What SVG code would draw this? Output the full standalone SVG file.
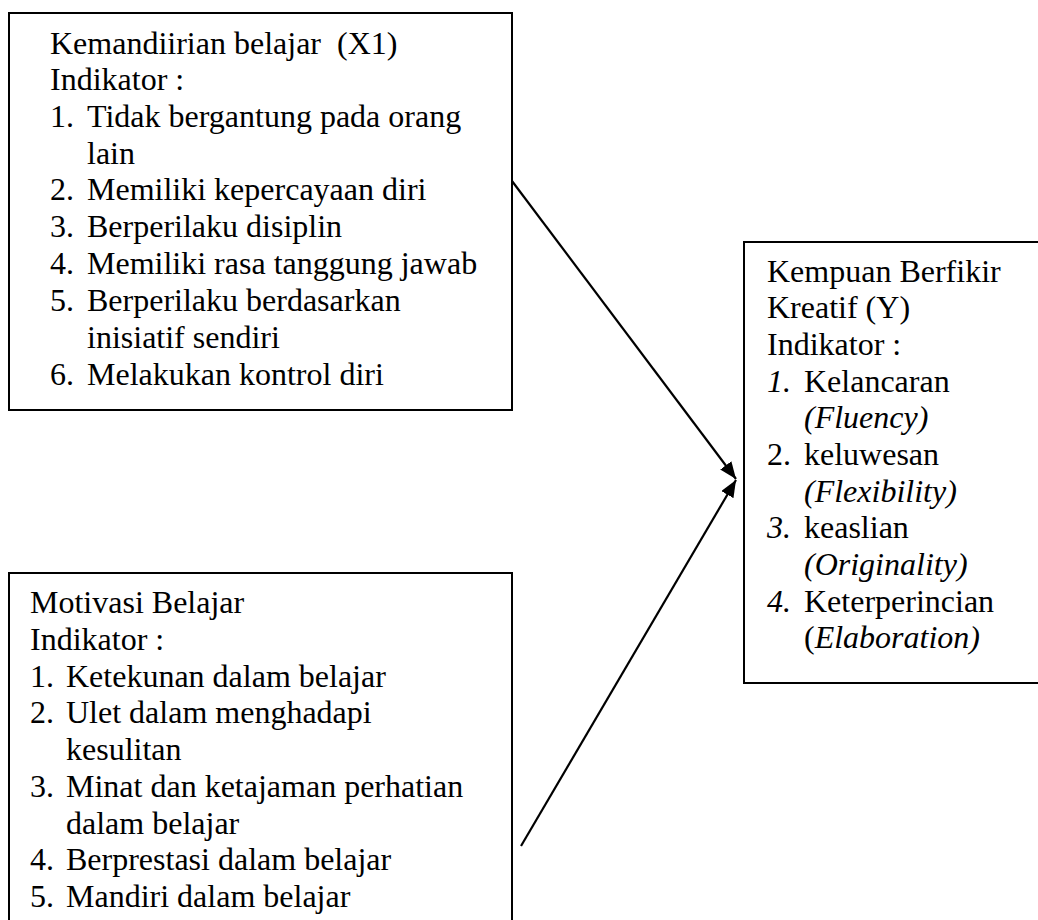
<svg xmlns="http://www.w3.org/2000/svg" width="1038" height="920" viewBox="0 0 1038 920">
<style>
text{font-family:'Liberation Serif',Tinos,'Times New Roman','DejaVu Serif',serif;font-size:32px;fill:#000}
.box{fill:#fff;stroke:#000;stroke-width:2}
.i{font-style:italic}
.conn{stroke:#000;stroke-width:2.2;fill:none}
</style>
<defs>
<marker id="ah" markerUnits="userSpaceOnUse" markerWidth="18" markerHeight="14" refX="17" refY="7" orient="auto">
<path d="M0,0 L17,7 L0,14 Z" fill="#000"/>
</marker>
</defs>
<rect width="1038" height="920" fill="#fff"/>
<g id="connectors">
<line class="conn" x1="512" y1="181" x2="736" y2="479" marker-end="url(#ah)"/>
<line class="conn" x1="521" y1="846" x2="736" y2="480" marker-end="url(#ah)"/>
</g>
<g id="node-x1" font-family="Liberation Serif, serif" font-size="32">
<rect class="box" x="9" y="13" width="503" height="397"/>
<text x="50" y="54" xml:space="preserve">Kemandiirian belajar  (X1)</text>
<text x="50" y="90">Indikator :</text>
<text x="50" y="127">1.</text><text x="87" y="127">Tidak bergantung pada orang</text>
<text x="87" y="164">lain</text>
<text x="50" y="200">2.</text><text x="87" y="200">Memiliki kepercayaan diri</text>
<text x="50" y="237">3.</text><text x="87" y="237">Berperilaku disiplin</text>
<text x="50" y="274">4.</text><text x="87" y="274">Memiliki rasa tanggung jawab</text>
<text x="50" y="311">5.</text><text x="87" y="311">Berperilaku berdasarkan</text>
<text x="87" y="348">inisiatif sendiri</text>
<text x="50" y="385">6.</text><text x="87" y="385">Melakukan kontrol diri</text>
</g>
<g id="node-x2" font-family="Liberation Serif, serif" font-size="32">
<rect class="box" x="9" y="573" width="503" height="360"/>
<text x="30" y="613">Motivasi Belajar</text>
<text x="30" y="650">Indikator :</text>
<text x="30" y="687">1.</text><text x="66" y="687">Ketekunan dalam belajar</text>
<text x="30" y="723">2.</text><text x="66" y="723">Ulet dalam menghadapi</text>
<text x="66" y="760">kesulitan</text>
<text x="30" y="797">3.</text><text x="66" y="797">Minat dan ketajaman perhatian</text>
<text x="66" y="834">dalam belajar</text>
<text x="30" y="870">4.</text><text x="66" y="870">Berprestasi dalam belajar</text>
<text x="30" y="907">5.</text><text x="66" y="907">Mandiri dalam belajar</text>
</g>
<g id="node-y" font-family="Liberation Serif, serif" font-size="32">
<rect class="box" x="744" y="242" width="310" height="441"/>
<text x="767" y="282">Kempuan Berfikir</text>
<text x="767" y="318">Kreatif (Y)</text>
<text x="767" y="355">Indikator :</text>
<text class="i" x="767" y="392">1.</text><text x="804" y="392">Kelancaran</text>
<text class="i" x="804" y="428">(Fluency)</text>
<text x="767" y="465">2.</text><text x="804" y="465">keluwesan</text>
<text class="i" x="804" y="502">(Flexibility)</text>
<text class="i" x="767" y="538">3.</text><text x="804" y="538">keaslian</text>
<text class="i" x="804" y="575">(Originality)</text>
<text class="i" x="767" y="612">4.</text><text x="804" y="612">Keterperincian</text>
<text x="804" y="648">(<tspan class="i">Elaboration)</tspan></text>
</g>
</svg>
